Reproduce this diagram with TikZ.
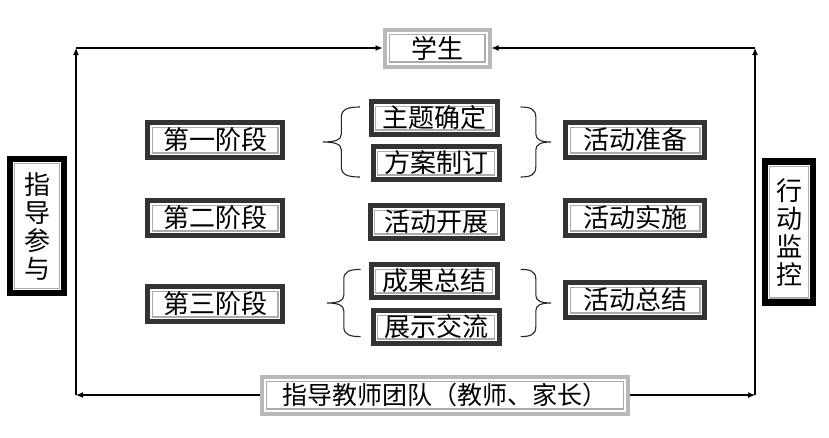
\documentclass[tikz,border=0pt]{standalone}
\usepackage{fontspec}
\newfontfamily\cjk{Noto Sans CJK SC}
\usetikzlibrary{arrows.meta}

\tikzset{
	frame/.style={draw=#1, fill=white, line width=5pt, inner sep=0pt, align=center,
		font=\cjk\fontsize{26}{28}\selectfont,
		path picture={\draw[gray!65, line width=1.2pt]
			([xshift=4.6pt,yshift=4.6pt]path picture bounding box.south west) rectangle
			([xshift=-4.6pt,yshift=-4.6pt]path picture bounding box.north east);}},
	stage/.style={frame=gray!40!black, minimum width=135pt, minimum height=35pt},
	task/.style={frame=gray!40!black, minimum width=126pt, minimum height=33pt},
	people/.style={frame=gray!55, line width=4pt, minimum height=37pt},
	side/.style={frame=black, line width=6.5pt, minimum height=134pt},
	arr/.style={-{Latex[length=7pt,width=6pt]}, line width=1.1pt},
	curly/.pic={\draw[line width=1.1pt, gray!30!black]
		(32,-35) .. controls (22,-35) and (16,-33) .. (16,-25) -- (16,-8)
		.. controls (16,-2) and (10,0) .. (0,0)
		.. controls (10,0) and (16,2) .. (16,8) -- (16,25)
		.. controls (16,33) and (22,35) .. (32,35);}
}

\begin{document}
\begin{tikzpicture}[x=1pt,y=-1pt]
	\def\L{215}
	\def\M{434}
	\def\R{635}

	\useasboundingbox (0,0) rectangle (829,437);

	% outer ring
	\node[people, minimum width=105pt] (stu) at (437,48) {学生};
	\node[people, minimum width=366pt, font=\cjk\fontsize{25}{28}\selectfont] (team) at (445,395) {指导教师团队（教师、家长）};
	\node[side, minimum width=54pt] (guide) at (37,226) {指\\导\\参\\与};
	\node[side, minimum width=48pt, minimum height=141pt] (watch) at (789,232) {行\\动\\监\\控};

	% stages
	\node[stage] (s1) at (\L,140) {第一阶段};
	\node[stage] (s2) at (\L,218) {第二阶段};
	\node[stage] (s3) at (\L,304) {第三阶段};

	\node[task] (t1) at (\M,118) {主题确定};
	\node[task] (t2) at (\M+2,163) {方案制订};
	\node[task, minimum width=132pt] (t3) at (\M+2,222) {活动开展};
	\node[task] (t4) at (\M,281) {成果总结};
	\node[task] (t5) at (\M+2,327) {展示交流};

	\node[stage, minimum width=139pt] (a1) at (\R,140) {活动准备};
	\node[stage, minimum width=139pt] (a2) at (\R,218) {活动实施};
	\node[stage, minimum width=139pt] (a3) at (\R,300) {活动总结};

	% braces
	\pic[xscale=1.15] at (323,142) {curly};
	\pic[xscale=-0.95] at (551,142) {curly};
	\pic[xscale=1.05, yscale=0.96] at (327,303) {curly};
	\pic[xscale=-0.95, yscale=0.96] at (551,303) {curly};

	% connectors
	\coordinate (lb) at (76,395);
	\coordinate (lt) at (76,48);
	\coordinate (rb) at (755,395);
	\coordinate (rt) at (755,48);

	\draw[arr] (team.west) -- (lb);
	\draw[arr] (lb) -- (lt);
	\draw[arr] (lt) -- (stu.west);
	\draw[arr] (team.east) -- (rb);
	\draw[arr] (rb) -- (rt);
	\draw[arr] (rt) -- (stu.east);
\end{tikzpicture}
\end{document}
